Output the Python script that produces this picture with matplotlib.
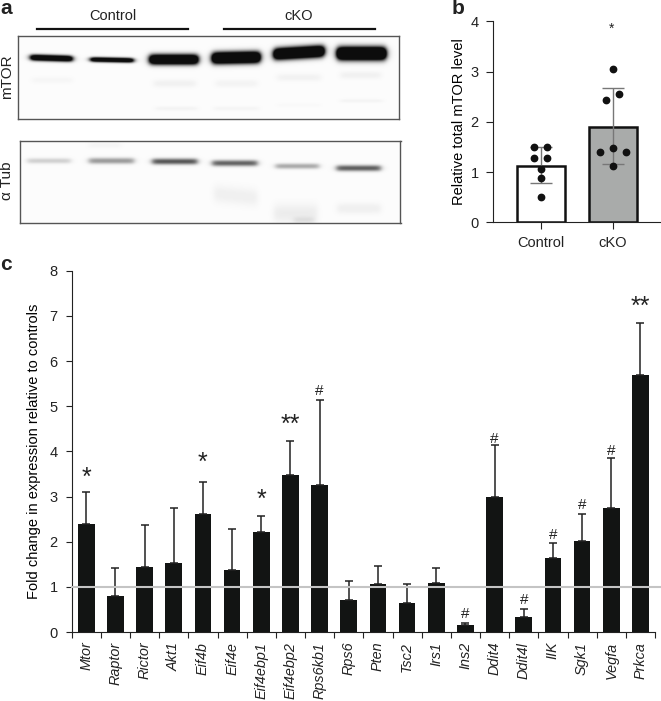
import numpy as np
from matplotlib import pyplot as plt

plt.rcParams['font.family'] = ['Liberation Sans', 'DejaVu Sans']
plt.rcParams['text.color'] = '#222222'
plt.rcParams['axes.edgecolor'] = '#222222'
plt.rcParams['xtick.color'] = '#222222'
plt.rcParams['ytick.color'] = '#222222'

W, H = 661, 701

# panel b
groups = ['Control', 'cKO']
group_means = [1.13, 1.90]
group_low = [0.79, 1.17]
group_high = [1.50, 2.67]
control_x = [-0.09, 0.09, -0.09, 0.09, 0, 0, 0]
control_pts = [1.50, 1.50, 1.27, 1.27, 1.06, 0.89, 0.50]
cko_x = [0, 0.09, -0.09, 0, -0.18, 0.18, 0]
cko_pts = [3.06, 2.56, 2.43, 1.47, 1.40, 1.40, 1.13]

# panel c
genes = ['Mtor', 'Raptor', 'Rictor', 'Akt1', 'Eif4b', 'Eif4e', 'Eif4ebp1', 'Eif4ebp2',
         'Rps6kb1', 'Rps6', 'Pten', 'Tsc2', 'Irs1', 'Ins2', 'Ddit4', 'Ddit4l', 'IIK',
         'Sgk1', 'Vegfa', 'Prkca']
fold = [2.40, 0.80, 1.45, 1.53, 2.61, 1.38, 2.22, 3.47, 3.26, 0.70,
        1.06, 0.64, 1.09, 0.15, 2.98, 0.33, 1.64, 2.01, 2.75, 5.68]
fold_top = [3.09, 1.42, 2.38, 2.75, 3.33, 2.28, 2.57, 4.24, 5.13, 1.12,
            1.47, 1.07, 1.41, 0.21, 4.14, 0.50, 1.96, 2.62, 3.85, 6.84]
star_genes = ['Mtor', 'Eif4b', 'Eif4ebp1', 'Eif4ebp2', 'Prkca']
star_text = ['*', '*', '*', '**', '**']
star_y = [3.41, 3.74, 2.93, 4.59, 7.20]
hash_genes = ['Rps6kb1', 'Ins2', 'Ddit4', 'Ddit4l', 'IIK', 'Sgk1', 'Vegfa']
hash_y = [5.33, 0.40, 4.28, 0.70, 2.14, 2.81, 4.00]

# blots: x0, x1, y, thickness, darkness, slope (zoomed px of the crop, 3x)
mtor_bands = [
    (90, 215, 172, 9, 1.6, 0.03), (270, 398, 178, 7, 1.5, 0.02), (447, 592, 178, 15, 1.8, 0),
    (635, 778, 174, 17, 2.0, -0.02), (820, 970, 162, 17, 2.0, -0.06), (1010, 1155, 160, 19, 2.2, 0),
    (95, 215, 240, 9, 0.025, 0), (460, 585, 250, 11, 0.045, 0), (645, 770, 250, 11, 0.035, 0),
    (830, 960, 232, 11, 0.04, 0), (1020, 1140, 225, 11, 0.045, 0),
    (465, 590, 325, 6, 0.035, 0), (640, 775, 325, 6, 0.03, 0), (830, 960, 315, 5, 0.015, 0),
    (1020, 1145, 302, 5, 0.035, 0),
]
tub_bands = [
    (80, 210, 482, 8, 0.17, 0), (265, 400, 482, 9, 0.38, 0), (455, 590, 484, 9, 0.65, 0),
    (635, 770, 489, 9, 0.60, 0), (825, 955, 498, 8, 0.32, 0), (1008, 1140, 504, 9, 0.62, 0),
    (265, 360, 435, 9, 0.03, 0), (640, 770, 580, 26, 0.05, 0.1), (820, 950, 640, 28, 0.06, 0),
    (880, 940, 660, 10, 0.08, 0), (1010, 1140, 625, 16, 0.05, 0),
]


def px_axes(fig, x0, y0, x1, y1):
    return fig.add_axes([x0 / W, 1 - y1 / H, (x1 - x0) / W, (y1 - y0) / H])


def draw_blot(fig, bands, x0, y0, x1, y1):
    xs, ys = np.meshgrid(np.arange(x0 * 3, x1 * 3), np.arange(y0 * 3, y1 * 3))
    dark = np.zeros(xs.shape) + 0.012
    for b0, b1, yc, thick, level, slope in bands:
        across = 1 / (1 + np.exp(-(xs - b0) / 5)) * 1 / (1 + np.exp((xs - b1) / 5))
        along = np.exp(-np.abs((ys - yc - slope * (xs - b0)) / thick) ** 2.2)
        dark += level * across * along
    ax = px_axes(fig, x0, y0, x1, y1)
    ax.imshow(1 - np.clip(dark, 0, 0.95), cmap='gray', vmin=0, vmax=1, aspect='auto')
    ax.set_xticks([])
    ax.set_yticks([])
    for s in ax.spines.values():
        s.set_color('#555555')
        s.set_linewidth(1.0)


fig = plt.figure(figsize=(W / 100, H / 100), dpi=100)

# panel a
draw_blot(fig, mtor_bands, 17.5, 36, 398.5, 119)
draw_blot(fig, tub_bands, 19.5, 141, 400.5, 223)

# panel b
axb = px_axes(fig, 492.7, 21.3, 661, 222.3)
axb.bar(0, group_means[0], width=0.66, color='white', edgecolor='#111111', linewidth=1.8)
axb.bar(1, group_means[1], width=0.66, color='#a9abaa', edgecolor='#111111', linewidth=1.8)
for i in range(2):
    axb.errorbar(i, group_means[i],
                 yerr=[[group_means[i] - group_low[i]], [group_high[i] - group_means[i]]],
                 color='#777777', elinewidth=1.0, capsize=8, capthick=1.0)
axb.scatter(np.array(control_x), control_pts, s=21, color='#111111', zorder=5)
axb.scatter(1 + np.array(cko_x), cko_pts, s=21, color='#111111', zorder=5)
axb.text(0.98, 3.86, '*', fontsize=10, ha='center', va='center')
axb.set_xlim(-0.67, 1.667)
axb.set_ylim(0, 4)
axb.set_xticks([0, 1])
axb.set_xticklabels(groups)
axb.set_yticks([0, 1, 2, 3, 4])
axb.tick_params(axis='both', labelsize=10.5, length=5, width=0.8, pad=5)
axb.set_ylabel('Relative total mTOR level', fontsize=10.5, labelpad=3)
axb.spines['top'].set_visible(False)
axb.spines['right'].set_visible(False)

# panel c
axc = px_axes(fig, 71.7, 270.7, 655, 632)
x = np.arange(len(genes))
axc.bar(x, fold, width=0.57, color='#121413')
axc.errorbar(x, fold, yerr=[np.zeros(len(fold)), np.array(fold_top) - np.array(fold)],
             fmt='none', ecolor='#222222', elinewidth=1.1, capsize=3.2, capthick=1.1)
axc.axhline(1, xmax=1.01, color='#c4c4c4', linewidth=1.5, clip_on=False, zorder=6)
for g, t, y in zip(star_genes, star_text, star_y):
    axc.text(genes.index(g), y, t, fontsize=18, ha='center', va='center')
for g, y in zip(hash_genes, hash_y):
    axc.text(genes.index(g), y, '#', fontsize=11, ha='center', va='center')
axc.set_xlim(-0.5, len(genes) - 0.5)
axc.set_ylim(0, 8)
axc.set_yticks(range(9))
axc.set_xticks(np.arange(len(genes) + 1) - 0.5)
axc.set_xticklabels([])
axc.set_xticks(x, minor=True)
axc.set_xticklabels(genes, minor=True, rotation=90, style='italic', fontsize=10.4)
axc.tick_params(axis='x', which='minor', length=0, pad=7)
axc.tick_params(axis='both', which='major', labelsize=10.5, length=4, width=0.8)
axc.tick_params(axis='y', which='major', pad=6)
axc.set_ylabel('Fold change in expression relative to controls', fontsize=10.5, labelpad=6)
axc.spines['top'].set_visible(False)
axc.spines['right'].set_visible(False)

# labels and group lines in figure pixels
over = fig.add_axes([0, 0, 1, 1])
over.set_xlim(0, W)
over.set_ylim(H, 0)
over.axis('off')
over.patch.set_alpha(0)
over.plot([37, 188], [29.3, 29.3], color='#111111', linewidth=1.6)
over.plot([224, 375], [29.3, 29.3], color='#111111', linewidth=1.6)
over.text(113, 16.5, 'Control', fontsize=10.5, ha='center', va='center')
over.text(299, 16.5, 'cKO', fontsize=10.5, ha='center', va='center')
over.text(7, 77, 'mTOR', fontsize=11, rotation=90, ha='center', va='center')
over.text(7, 181, 'α Tub', fontsize=11, rotation=90, ha='center', va='center')
over.text(0, 9, 'a', fontsize=15, fontweight='bold', ha='left', va='center')
over.text(452, 8, 'b', fontsize=15, fontweight='bold', ha='left', va='center')
over.text(0, 264, 'c', fontsize=15, fontweight='bold', ha='left', va='center')

fig.savefig('out.png', dpi=100)
